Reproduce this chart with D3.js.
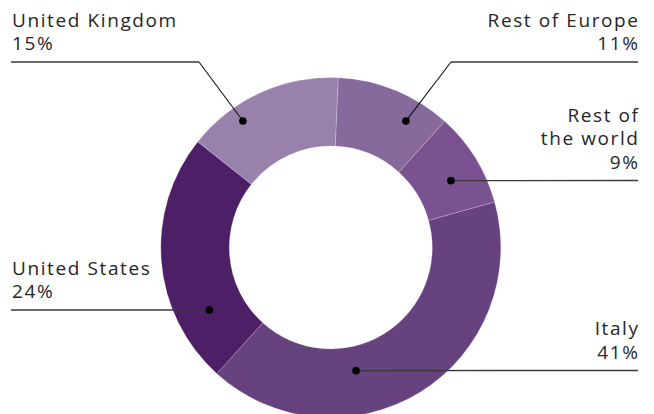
<!DOCTYPE html>
<html>
<head>
<meta charset="utf-8">
<script src="https://cdn.jsdelivr.net/npm/d3@7"></script>
<style>
  body { margin: 0; background: #fff; }
  #chart text { font-family: "Open Sans", sans-serif; font-size: 19px; fill: #262626; letter-spacing: 1.6px; }
</style>
</head>
<body>
<div id="chart"></div>
<script>
// data, clockwise from the top
var categories = ["Rest of Europe", "Rest of the world", "Italy", "United States", "United Kingdom"];
var shares = [11, 9, 41, 24, 15];
var labelLines = [["Rest of Europe"], ["Rest of", "the world"], ["Italy"], ["United States"], ["United Kingdom"]];

var colors = ["#876a9c", "#7a528f", "#66427e", "#4c1f66", "#9881ab"];

// where each label sits and where its leader touches the ring
var layout = [
  {side: "right", lineY: 62,  elbowX: 451, dotAngle: 30.7,  dotR: 147},
  {side: "right", lineY: 180.5, elbowX: null, dotAngle: 60.9, dotR: 137.5},
  {side: "right", lineY: 370.5, elbowX: null, dotAngle: 168.4, dotR: 125.7},
  {side: "left",  lineY: 310, elbowX: null, dotAngle: 242.8, dotR: 136.6},
  {side: "left",  lineY: 62,  elbowX: 199, dotAngle: 325.2, dotR: 154}
];

var width = 654, height = 414;
var cx = 330.8, cy = 247.5, outerR = 170, innerR = 101.5;
var startOffset = 2.5 * Math.PI / 180;
var leftX = 11, rightX = 638, lineGap = 23.5, spacing = 1.6;

var svg = d3.select("#chart").append("svg")
    .attr("width", width)
    .attr("height", height);

var pie = d3.pie()
    .sort(null)
    .startAngle(startOffset)
    .endAngle(startOffset + 2 * Math.PI)
    .value(function(d) { return d; });

var arc = d3.arc()
    .innerRadius(innerR)
    .outerRadius(outerR);

var g = svg.append("g")
    .attr("transform", "translate(" + cx + "," + cy + ")");

g.selectAll(".slice")
    .data(pie(shares))
  .enter().append("path")
    .attr("class", "slice")
    .attr("d", arc)
    .attr("fill", function(d, i) { return colors[i]; })
    .attr("stroke", "rgba(255,255,255,0.35)")
    .attr("stroke-width", 0.6);

// labels + leaders
categories.forEach(function(c, i) {
  var L = layout[i];
  var p = d3.pointRadial(L.dotAngle * Math.PI / 180, L.dotR);
  var dx = cx + p[0], dy = cy + p[1];
  var endX = L.side == "left" ? leftX : rightX;

  var pts = [[endX, L.lineY]];
  if (L.elbowX != null) {
    pts.push([L.elbowX, L.lineY]);
  }
  pts.push([dx, dy]);

  svg.append("line")
      .attr("x1", pts[0][0]).attr("y1", pts[0][1])
      .attr("x2", pts[1][0]).attr("y2", pts[1][1])
      .attr("stroke", "#3a3a3a")
      .attr("stroke-width", 1.4);
  if (pts.length == 3) {
    svg.append("line")
        .attr("x1", pts[1][0]).attr("y1", pts[1][1])
        .attr("x2", pts[2][0]).attr("y2", pts[2][1])
        .attr("stroke", "#111")
        .attr("stroke-width", 1.1);
  }

  svg.append("circle")
      .attr("cx", dx).attr("cy", dy)
      .attr("r", 3.8)
      .attr("fill", "#000");

  var lines = labelLines[i].concat([shares[i] + "%"]);
  var firstBase = L.lineY - 12 - (lines.length - 1) * lineGap;
  var t = svg.append("text")
      .attr("text-anchor", L.side == "left" ? "start" : "end");
  lines.forEach(function(s, k) {
    t.append("tspan")
        .attr("x", L.side == "left" ? leftX + 1 : rightX + spacing)
        .attr("y", firstBase + k * lineGap)
        .text(s);
  });
});
</script>
</body>
</html>
